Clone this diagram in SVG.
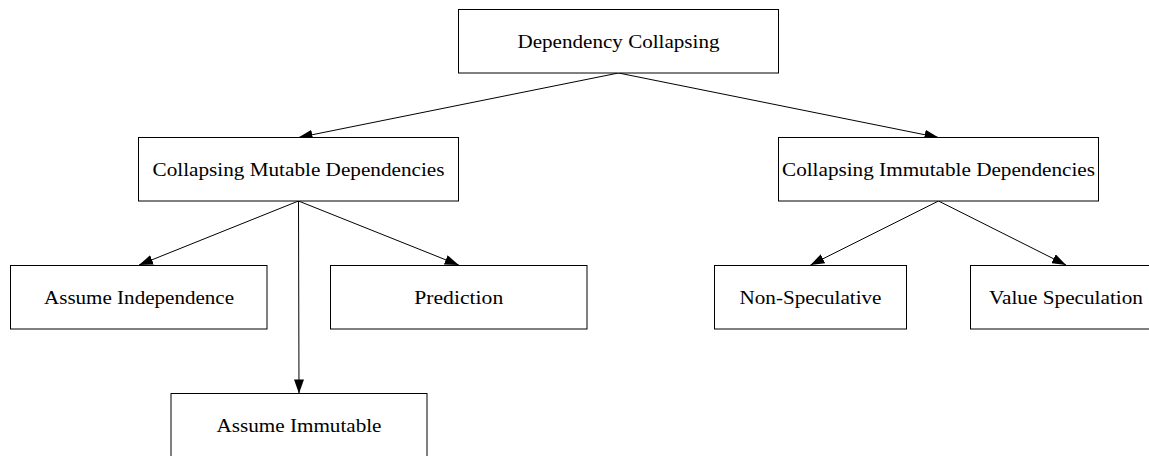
<svg xmlns="http://www.w3.org/2000/svg" width="1149" height="456" viewBox="0 0 1149 456">
<style>
.box{fill:#fff;stroke:#000;stroke-width:1}
.lbl{font-family:'Liberation Serif','DejaVu Serif',serif;font-size:19px;fill:#000;text-anchor:middle}
.edge{fill:none;stroke:#000;stroke-width:1;marker-end:url(#arr)}
</style>
<defs>
<marker id="arr" markerUnits="userSpaceOnUse" markerWidth="14" markerHeight="10" refX="14" refY="5" orient="auto">
<path d="M0,0 L14,5 L0,10 z" fill="#000"/>
</marker>
</defs>
<rect width="1149" height="456" fill="#fff"/>
<g id="edges">
<line class="edge" x1="618.5" y1="73" x2="298.5" y2="137.5"/>
<line class="edge" x1="618.5" y1="73" x2="938.5" y2="137.5"/>
<line class="edge" x1="298.5" y1="201" x2="139" y2="265"/>
<line class="edge" x1="298.5" y1="201" x2="299" y2="393.5"/>
<line class="edge" x1="298.5" y1="201" x2="458.75" y2="265"/>
<line class="edge" x1="938.5" y1="201" x2="810.5" y2="265"/>
<line class="edge" x1="938.5" y1="201" x2="1066" y2="265"/>
</g>
<g id="n_root">
<rect class="box" x="458.5" y="9.5" width="320" height="63.5"/>
<text class="lbl" x="618.5" y="48" textLength="202" lengthAdjust="spacingAndGlyphs">Dependency Collapsing</text>
</g>
<g id="n_mutable">
<rect class="box" x="138.5" y="137.5" width="320" height="63.5"/>
<text class="lbl" x="298.5" y="176" textLength="292" lengthAdjust="spacingAndGlyphs">Collapsing Mutable Dependencies</text>
</g>
<g id="n_immutable">
<rect class="box" x="778.5" y="137.5" width="320" height="63.5"/>
<text class="lbl" x="938.5" y="176" textLength="313" lengthAdjust="spacingAndGlyphs">Collapsing Immutable Dependencies</text>
</g>
<g id="n_independence">
<rect class="box" x="10.5" y="265.5" width="256.5" height="63.5"/>
<text class="lbl" x="139" y="304" textLength="190" lengthAdjust="spacingAndGlyphs">Assume Independence</text>
</g>
<g id="n_prediction">
<rect class="box" x="330.5" y="265.5" width="256.5" height="63.5"/>
<text class="lbl" x="458.75" y="304" textLength="89" lengthAdjust="spacingAndGlyphs">Prediction</text>
</g>
<g id="n_assume_immutable">
<rect class="box" x="171" y="393.5" width="256" height="63.5"/>
<text class="lbl" x="299" y="432" textLength="165" lengthAdjust="spacingAndGlyphs">Assume Immutable</text>
</g>
<g id="n_nonspec">
<rect class="box" x="714.5" y="265.5" width="192" height="63.5"/>
<text class="lbl" x="810.5" y="304" textLength="142" lengthAdjust="spacingAndGlyphs">Non-Speculative</text>
</g>
<g id="n_valuespec">
<rect class="box" x="970.5" y="265.5" width="191" height="63.5"/>
<text class="lbl" x="1066" y="304" textLength="154" lengthAdjust="spacingAndGlyphs">Value Speculation</text>
</g>
</svg>
